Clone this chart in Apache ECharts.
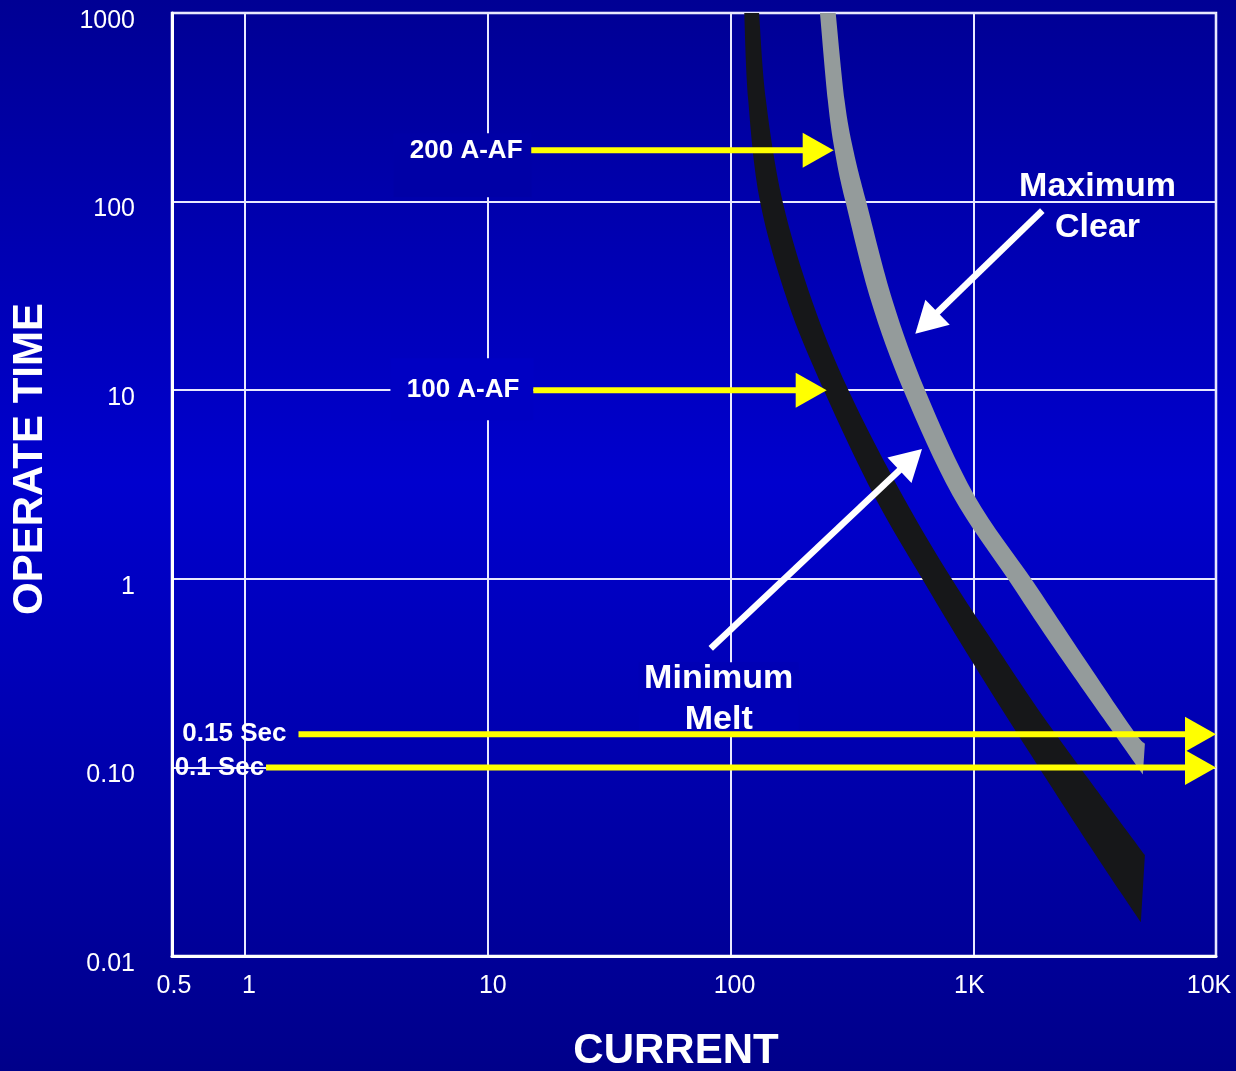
<!DOCTYPE html>
<html>
<head>
<meta charset="utf-8">
<script src="https://cdn.jsdelivr.net/npm/echarts@6/dist/echarts.min.js"></script>
<style>
  html, body { margin: 0; padding: 0; background: #0000a0; }
  #chart { width: 1236px; height: 1071px; }
</style>
</head>
<body>
<div id="chart"></div>
<script>
// Fuse time-current characteristic on log-log axes (current in A, operate time in s)

const xTickValues = [0.5, 1, 10, 100, 1000, 10000];
const xTickLabels = ['0.5', '1', '10', '100', '1K', '10K'];
const xTickShift = [2, 4, 5, 4, -4, -7];   // horizontal nudge of each label, px
const yTickValues = [0.01, 0.1, 1, 10, 100, 1000];
const yTickLabels = ['0.01', '0.10', '1', '10', '100', '1000'];

// Minimum melt band edges, [current, time], from top to bottom
const minMeltLeft = [
  [113.9, 1000], [118.3, 344.5], [132.3, 100], [171.7, 29.74], [242.4, 10],
  [390, 2.768], [615.9, 1], [886, 0.4584], [1470.6, 0.1613], [3058, 0.0374],
  [4902, 0.0151]
];
const minMeltRight = [
  [131.1, 1000], [139.9, 344.5], [163.9, 100], [216.8, 29.74], [306.1, 10],
  [510.9, 2.768], [814.6, 1], [1212.6, 0.4584], [2100.6, 0.1613], [5094, 0.0343]
];

// Maximum clear band edges, [current, time], from top to bottom
const maxClearLeft = [
  [233.6, 1000], [251.6, 344.5], [268.6, 186.7], [297.6, 100], [379.2, 29.74],
  [516, 10], [822.2, 2.768], [1388, 1], [2080, 0.4584], [3672, 0.1613],
  [4996, 0.0917]
];
const maxClearRight = [
  [271.2, 1000], [294.9, 344.5], [320.7, 186.7], [362.1, 100], [465.6, 29.74],
  [633.3, 10], [1009.7, 2.768], [1731.9, 1], [2595, 0.4584], [4494, 0.1613],
  [5094, 0.1335]
];

// Arrows: [fromCurrent, fromTime, toCurrent, toTime]
const yellowArrows = [
  [15.1, 187, 266, 187],
  [15.4, 10, 249, 10],
  [1.66, 0.15, 10000, 0.15],
  [1.22, 0.1, 10000, 0.1]
];
const whiteArrows = [
  [1925, 89.5, 577, 19.9],
  [82.9, 0.428, 615, 4.88]
];

// Annotation texts and their anchor points [current, time]
const arrowLabelTexts = ['200 A-AF', '100 A-AF', '0.15 Sec', '0.1 Sec'];
const arrowLabelAnchors = [[13.9, 187], [13.5, 10], [1.48, 0.15], [1.2, 0.1]];
const curveLabelTexts = ['Maximum\nClear', 'Minimum\nMelt'];
const curveLabelAnchors = [[3250, 93.6], [89.4, 0.23]];

const FONT = '"Liberation Sans", Arial, Helvetica, sans-serif';
const H = 1071;
const bgStops = [[0, [0, 0, 148]], [0.45, [0, 0, 206]], [1, [0, 0, 138]]];

function bgColorAt(py) {
  const t = Math.max(0, Math.min(1, py / H));
  for (let i = 0; i < bgStops.length - 1; i++) {
    const a = bgStops[i], b = bgStops[i + 1];
    if (t >= a[0] && t <= b[0]) {
      const f = (t - a[0]) / (b[0] - a[0]);
      const c = a[1].map((v, k) => Math.round(v + (b[1][k] - v) * f));
      return 'rgb(' + c.join(',') + ')';
    }
  }
  return 'rgb(0,0,138)';
}

function nearestIndex(v, values) {
  let best = 0, d = Infinity;
  values.forEach((t, i) => {
    const dd = Math.abs(Math.log10(v) - Math.log10(t));
    if (dd < d) { d = dd; best = i; }
  });
  return best;
}

// Catmull-Rom curve through pixel points, as cubic Bezier path commands
function curveThrough(pts) {
  const f = p => p[0].toFixed(2) + ' ' + p[1].toFixed(2);
  let d = '';
  for (let i = 0; i < pts.length - 1; i++) {
    const p0 = pts[Math.max(i - 1, 0)], p1 = pts[i], p2 = pts[i + 1], p3 = pts[Math.min(i + 2, pts.length - 1)];
    const c1 = [p1[0] + (p2[0] - p0[0]) / 6, p1[1] + (p2[1] - p0[1]) / 6];
    const c2 = [p2[0] - (p3[0] - p1[0]) / 6, p2[1] - (p3[1] - p1[1]) / 6];
    d += ' C ' + f(c1) + ' ' + f(c2) + ' ' + f(p2);
  }
  return d;
}

function bandRenderer(left, right, color) {
  return function (params, api) {
    if (params.dataIndex !== 0) return null;
    const l = left.map(p => api.coord(p));
    const r = right.slice().reverse().map(p => api.coord(p));
    const d = 'M ' + l[0][0].toFixed(2) + ' ' + l[0][1].toFixed(2) + curveThrough(l) +
      ' L ' + r[0][0].toFixed(2) + ' ' + r[0][1].toFixed(2) + curveThrough(r) + ' Z';
    return { type: 'path', shape: { pathData: d }, style: { fill: color } };
  };
}

function arrowGroup(api, a, color, width, headLen, headHalf) {
  const p0 = api.coord([a[0], a[1]]);
  const p1 = api.coord([a[2], a[3]]);
  const dx = p1[0] - p0[0], dy = p1[1] - p0[1];
  const len = Math.hypot(dx, dy);
  const ux = dx / len, uy = dy / len;
  const bx = p1[0] - ux * headLen, by = p1[1] - uy * headLen;
  return {
    type: 'group',
    children: [
      { type: 'line', shape: { x1: p0[0], y1: p0[1], x2: bx + ux * 2, y2: by + uy * 2 },
        style: { stroke: color, lineWidth: width } },
      { type: 'polygon',
        shape: { points: [[p1[0], p1[1]], [bx - uy * headHalf, by + ux * headHalf], [bx + uy * headHalf, by - ux * headHalf]] },
        style: { fill: color } }
    ]
  };
}

// Background boxes behind some labels, relative to the text anchor: [left, right, top, bottom]
const arrowLabelBoxes = [[-129, 9, -17, 47], [-129, 14, -32, 30], null, null];
const curveLabelBoxes = [null, [-80, 80, -37, 33]];

const xLabelRich = {};
xTickShift.forEach((s, i) => {
  xLabelRich['t' + i] = {
    color: '#ffffff', fontSize: 25, fontFamily: FONT,
    padding: s >= 0 ? [0, 0, 0, 2 * s] : [0, -2 * s, 0, 0]
  };
});

const chart = echarts.init(document.getElementById('chart'));

chart.setOption({
  animation: false,
  backgroundColor: {
    type: 'linear', x: 0, y: 0, x2: 0, y2: 1,
    colorStops: bgStops.map(s => ({ offset: s[0], color: 'rgb(' + s[1].join(',') + ')' }))
  },
  grid: {
    left: 172, right: 20, top: 13, bottom: 115,
    containLabel: false, outerBoundsMode: 'none',
    show: true, borderColor: '#ffffff', borderWidth: 2.5, backgroundColor: 'transparent'
  },
  graphic: [
    {
      type: 'text', x: 30, y: 459, rotation: Math.PI / 2,
      style: { text: 'OPERATE TIME', fill: '#ffffff', font: 'bold 42px ' + FONT, align: 'center', verticalAlign: 'middle' }
    },
    {
      type: 'text', x: 676, y: 1051,
      style: { text: 'CURRENT', fill: '#ffffff', font: 'bold 42px ' + FONT, align: 'center', verticalAlign: 'middle' }
    }
  ],
  xAxis: {
    type: 'log', logBase: 10, min: 0.5, max: 10000,
    axisLine: { show: true, lineStyle: { color: '#ffffff', width: 3 } },
    axisTick: { show: false },
    minorTick: { show: false },
    splitLine: { show: true, lineStyle: { color: '#e8e8ff', width: 2 } },
    axisLabel: {
      color: '#ffffff', fontSize: 25, fontFamily: FONT, margin: 18,
      formatter: v => { const i = nearestIndex(v, xTickValues); return '{t' + i + '|' + xTickLabels[i] + '}'; },
      rich: xLabelRich
    }
  },
  yAxis: {
    type: 'log', logBase: 10, min: 0.01, max: 1000,
    axisLine: { show: true, lineStyle: { color: '#ffffff', width: 3 } },
    axisTick: { show: false },
    minorTick: { show: false },
    splitLine: { show: true, lineStyle: { color: '#e8e8ff', width: 2 } },
    axisLabel: {
      color: '#ffffff', fontSize: 25, fontFamily: FONT, margin: 37,
      verticalAlign: 'top', lineHeight: 16,
      formatter: v => yTickLabels[nearestIndex(v, yTickValues)]
    }
  },
  series: [
    {
      name: 'Minimum Melt', type: 'custom', clip: true, z: 2,
      encode: { x: 0, y: 1 }, data: minMeltLeft,
      renderItem: bandRenderer(minMeltLeft, minMeltRight, '#161719')
    },
    {
      name: 'Maximum Clear', type: 'custom', clip: true, z: 3,
      encode: { x: 0, y: 1 }, data: maxClearLeft,
      renderItem: bandRenderer(maxClearLeft, maxClearRight, '#949b9b')
    },
    {
      name: 'Labels', type: 'custom', clip: false, z: 4,
      encode: { x: 0, y: 1 }, data: arrowLabelAnchors.concat(curveLabelAnchors),
      renderItem: function (params, api) {
        const i = params.dataIndex;
        const nA = arrowLabelTexts.length;
        const isArrowLabel = i < nA;
        const anchor = isArrowLabel ? arrowLabelAnchors[i] : curveLabelAnchors[i - nA];
        const text = isArrowLabel ? arrowLabelTexts[i] : curveLabelTexts[i - nA];
        const box = isArrowLabel ? arrowLabelBoxes[i] : curveLabelBoxes[i - nA];
        const p = api.coord(anchor);
        const children = [];
        if (box) {
          children.push({
            type: 'rect',
            shape: { x: p[0] + box[0], y: p[1] + box[2], width: box[1] - box[0], height: box[3] - box[2] },
            style: { fill: bgColorAt(p[1]) }
          });
        }
        children.push({
          type: 'text', x: p[0], y: p[1],
          style: {
            text: text, fill: '#ffffff',
            font: isArrowLabel ? 'bold 26px ' + FONT : 'bold 34px ' + FONT,
            align: isArrowLabel ? 'right' : 'center',
            verticalAlign: 'middle',
            lineHeight: 41
          }
        });
        return { type: 'group', children: children };
      }
    },
    {
      name: 'Time marks', type: 'custom', clip: false, z: 5,
      encode: { x: 2, y: 3 }, data: yellowArrows,
      renderItem: (params, api) => arrowGroup(api, yellowArrows[params.dataIndex], '#ffff00', 6, 31, 17.5)
    },
    {
      name: 'Pointers', type: 'custom', clip: false, z: 5,
      encode: { x: 2, y: 3 }, data: whiteArrows,
      renderItem: (params, api) => arrowGroup(api, whiteArrows[params.dataIndex], '#ffffff', 6.5, 31, 17.5)
    }
  ]
});
</script>
</body>
</html>
